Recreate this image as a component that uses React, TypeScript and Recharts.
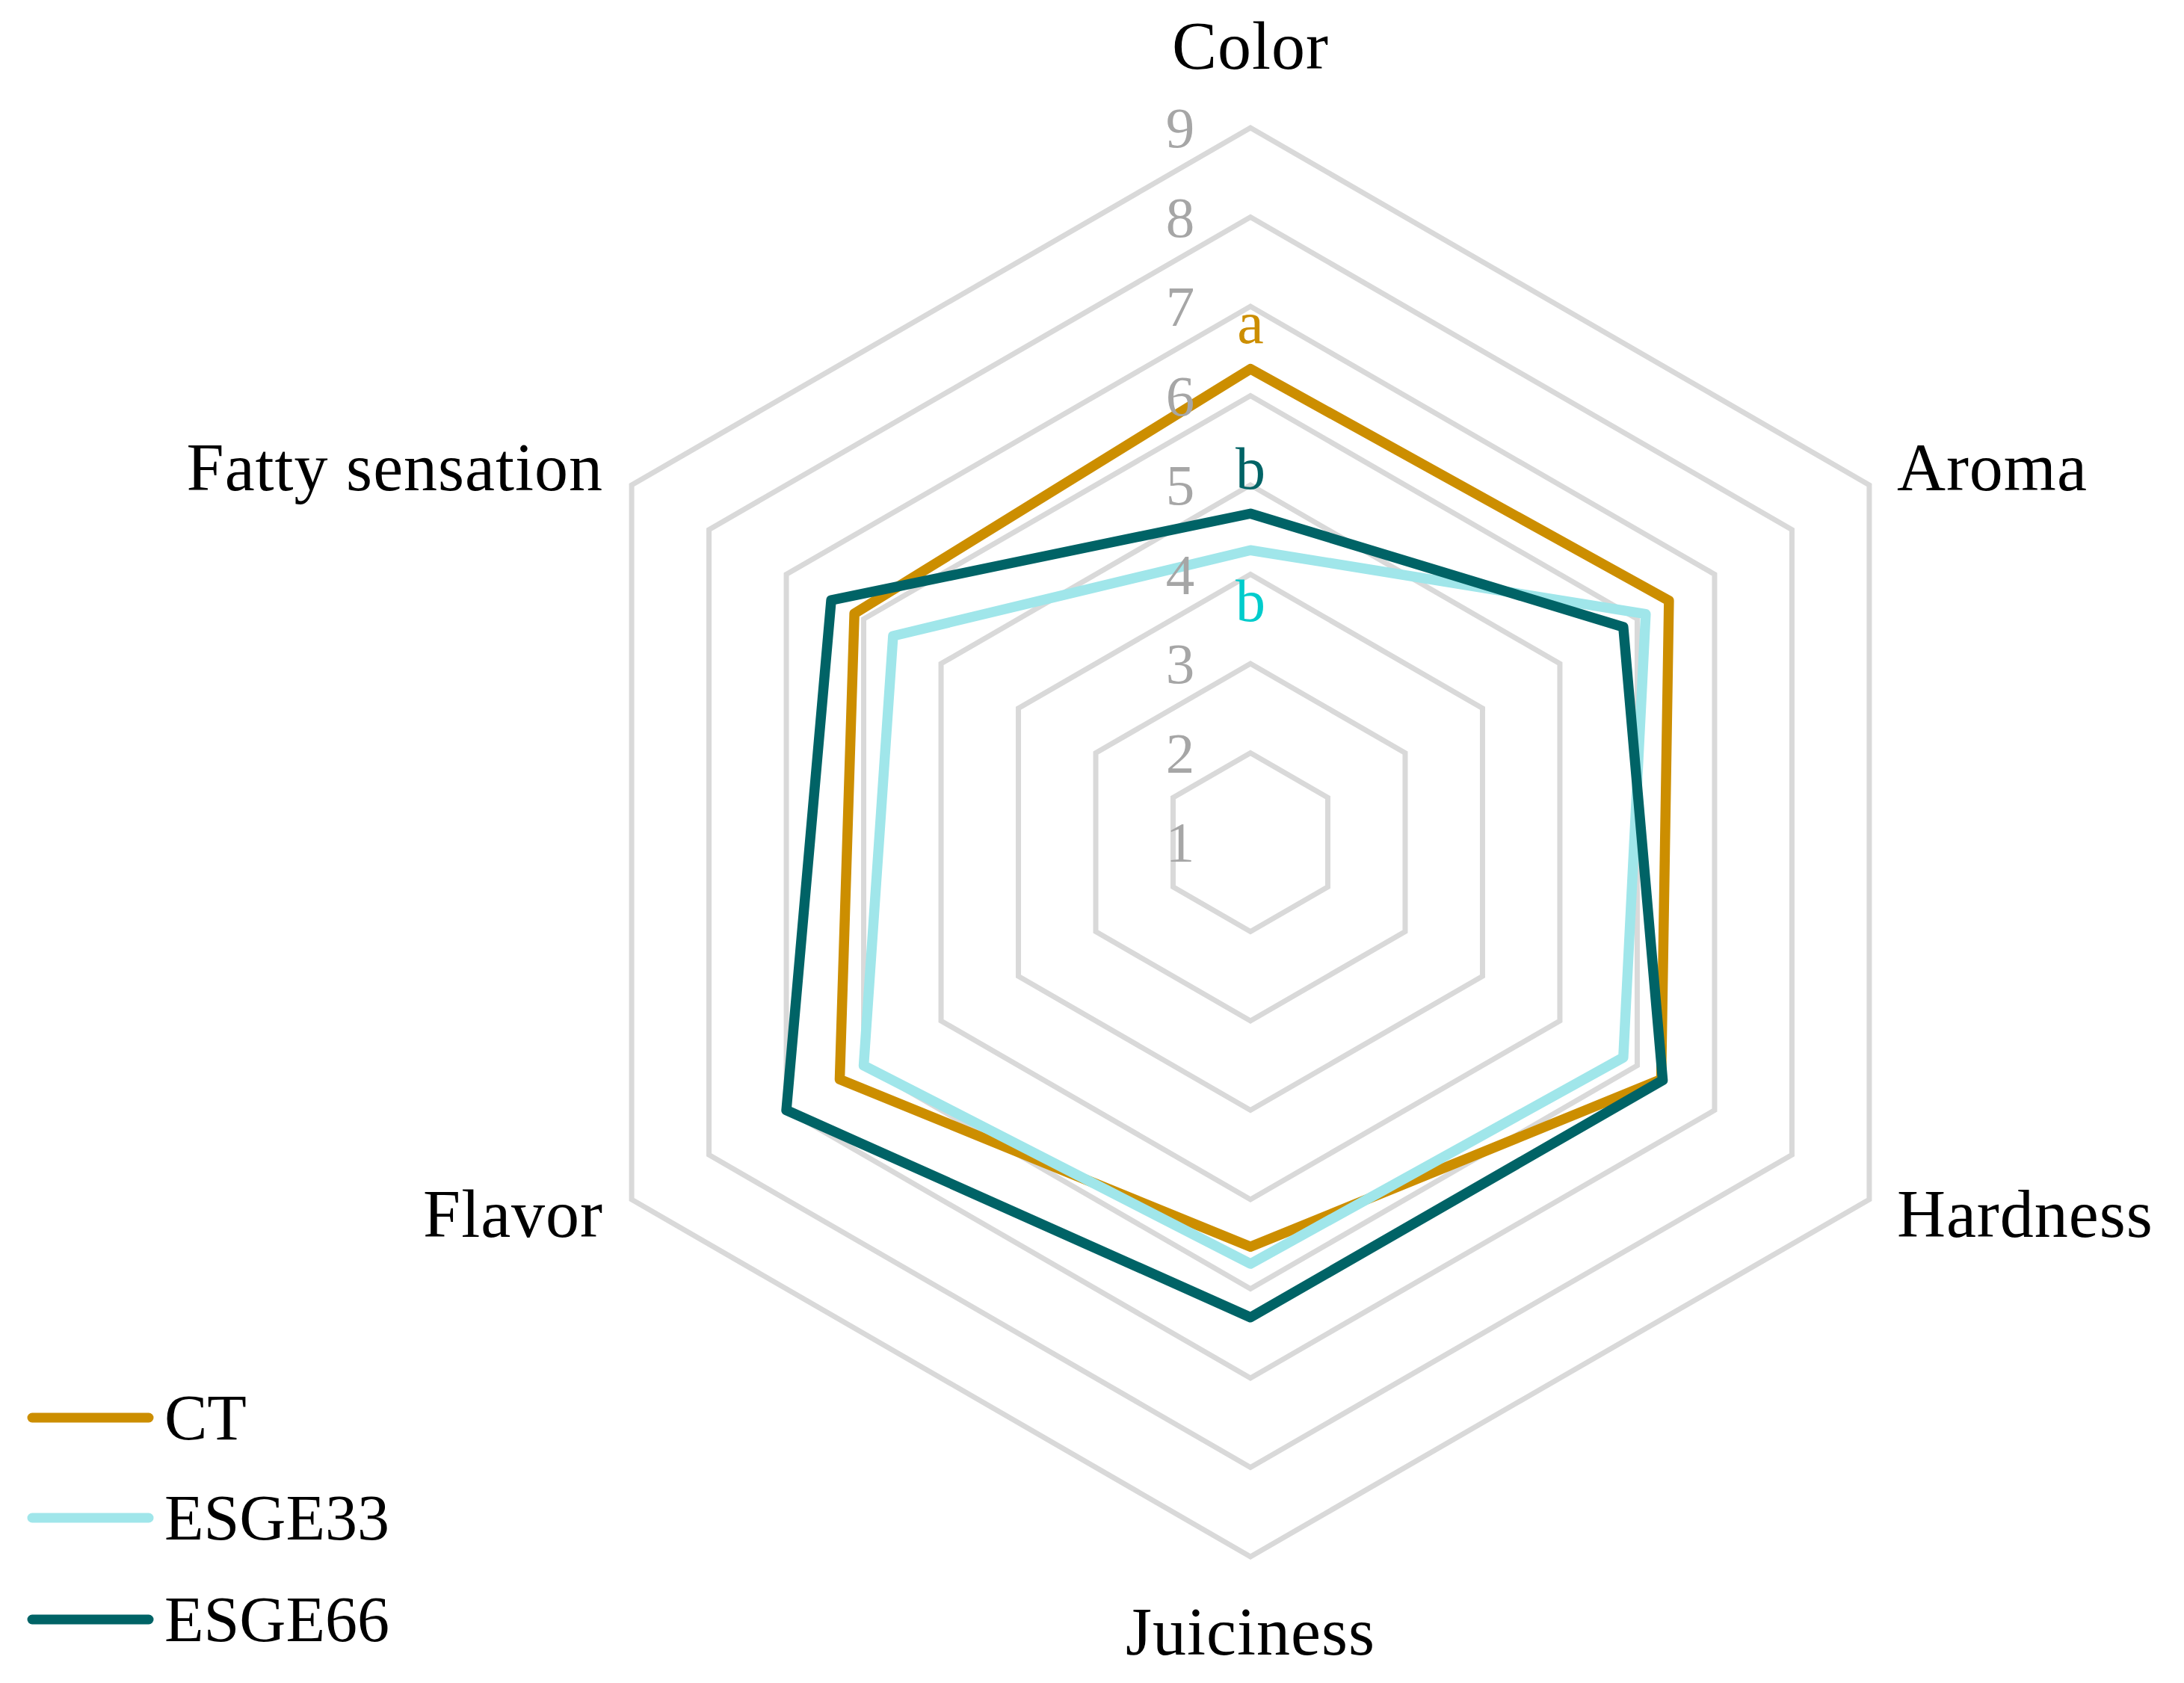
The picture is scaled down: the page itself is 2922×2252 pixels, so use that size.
import React from "react";
import { RadarChart, Radar, PolarGrid, PolarAngleAxis, PolarRadiusAxis } from "recharts";

const CATEGORIES = ["Color", "Aroma", "Hardness", "Juiciness", "Flavor", "Fatty sensation"];
const CT = [6.3, 6.41, 6.31, 5.53, 6.31, 6.12];
const ESGE33 = [4.27, 6.11, 5.82, 5.72, 6.0, 5.62];
const ESGE66 = [4.68, 5.82, 6.33, 6.32, 7.0, 6.42];
const TICKS = [1, 2, 3, 4, 5, 6, 7, 8, 9];
// significance letters shown on the Color axis
const LETTERS = ["a", "b", "b"];

const SERIES = [
  { key: "CT", values: CT, color: "#CC8E00", letterColor: "#CC8E00", letterDy: -35 },
  { key: "ESGE33", values: ESGE33, color: "#A0E6EA", letterColor: "#00CCCC", letterDy: 95 },
  { key: "ESGE66", values: ESGE66, color: "#006366", letterColor: "#006366", letterDy: -33 },
];

const data = CATEGORIES.map((attr, i) => ({
  attr,
  CT: CT[i],
  ESGE33: ESGE33[i],
  ESGE66: ESGE66[i],
}));

const W = 2922;
const H = 2252;
const CX = 1673;
const CY = 1127;
const R = 956;
const FONT = "'Liberation Serif', 'DejaVu Serif', serif";

function AngleTick(props: any) {
  const { payload } = props;
  const i = CATEGORIES.indexOf(payload.value);
  const ang = ((90 - 60 * i) * Math.PI) / 180;
  const vx = CX + R * Math.cos(ang);
  const vy = CY - R * Math.sin(ang);
  let x = vx;
  let y = vy;
  let anchor = "middle";
  if (i === 0) {
    y = vy - 79;
  } else if (i === 3) {
    y = vy + 131;
  } else if (i === 1 || i === 2) {
    x = vx + 37;
    anchor = "start";
    y = vy + (i === 1 ? 7 : 50);
  } else {
    x = vx - 38;
    anchor = "end";
    y = vy + (i === 5 ? 7 : 50);
  }
  return (
    <text x={x} y={y} textAnchor={anchor} fontSize={90} letterSpacing={1} fill="#000" fontFamily={FONT}>
      {payload.value}
    </text>
  );
}

function RadiusTick(props: any) {
  const { x, y, payload } = props;
  return (
    <text x={x - 94} y={y + 26} textAnchor="middle" fontSize={77} fill="#A6A6A6" fontFamily={FONT}>
      {payload.value}
    </text>
  );
}

function letterLabel(s: number) {
  return (p: any) => {
    if (p.index !== 0) return null;
    const sr = SERIES[s];
    return (
      <text
        x={p.x}
        y={p.y + sr.letterDy}
        textAnchor="middle"
        fontSize={80}
        fill={sr.letterColor}
        fontFamily={FONT}
      >
        {LETTERS[s]}
      </text>
    );
  };
}

function LegendBox() {
  const rows = [1897, 2031, 2167];
  return (
    <svg width={700} height={H} style={{ position: "absolute", left: 0, top: 0 }}>
      {SERIES.map((s, i) => (
        <g key={s.key}>
          <line x1={43} x2={199} y1={rows[i]} y2={rows[i]} stroke={s.color} strokeWidth={13} strokeLinecap="round" />
          <text x={220} y={rows[i] + 29} fontSize={86} fill="#000" fontFamily={FONT}>
            {s.key}
          </text>
        </g>
      ))}
    </svg>
  );
}

export default function App() {
  return (
    <div style={{ position: "absolute", left: 0, top: 0, width: W, height: H, background: "#fff" }}>
      <RadarChart
        width={W}
        height={H}
        data={data}
        cx={CX}
        cy={CY}
        outerRadius={R}
        margin={{ top: 0, right: 0, bottom: 0, left: 0 }}
      >
        <PolarGrid gridType="polygon" radialLines={false} stroke="#D9D9D9" strokeWidth={7} />
        <PolarAngleAxis dataKey="attr" tick={<AngleTick />} tickLine={false} axisLine={false} />
        <PolarRadiusAxis
          angle={90}
          type="number"
          domain={[1, 9]}
          ticks={TICKS}
          tickCount={9}
          axisLine={false}
          tickLine={false}
          tick={<RadiusTick />}
        />
        {SERIES.map((s, i) => (
          <Radar
            key={s.key}
            name={s.key}
            dataKey={s.key}
            stroke={s.color}
            strokeWidth={13.5}
            strokeLinejoin="round"
            fill="none"
            fillOpacity={0}
            dot={false}
            isAnimationActive={false}
            label={letterLabel(i)}
          />
        ))}
      </RadarChart>
      <LegendBox />
    </div>
  );
}
